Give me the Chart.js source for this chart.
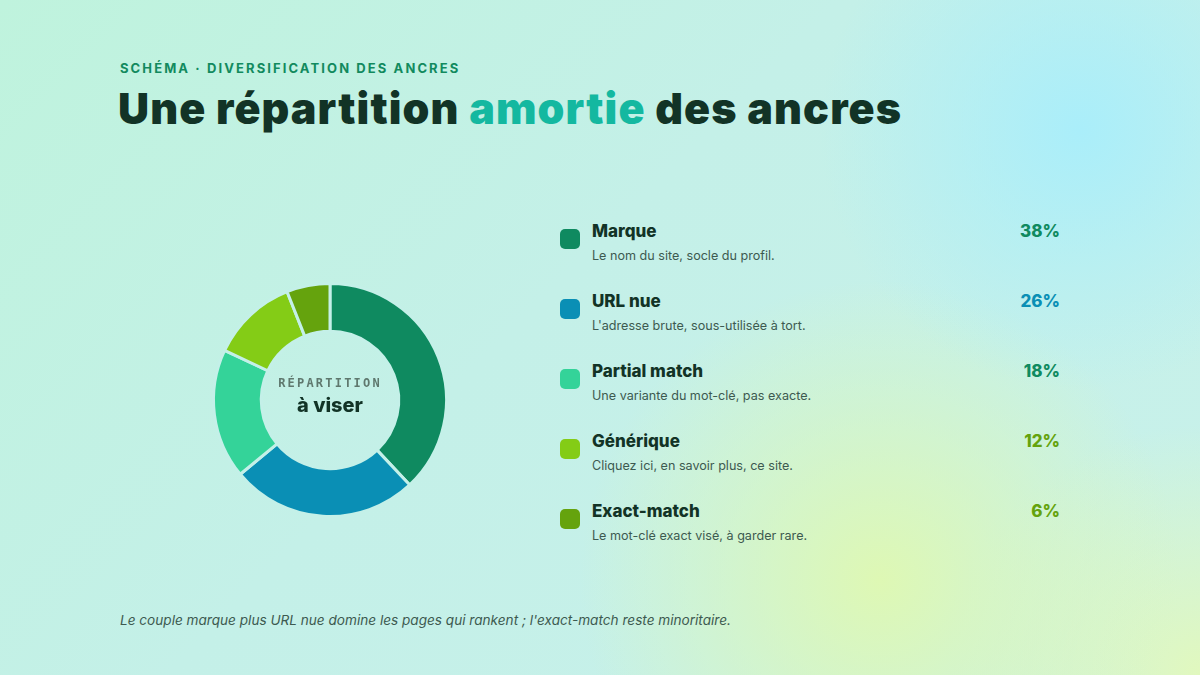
<!DOCTYPE html>
<html><head><meta charset="utf-8">
<script src="https://cdn.jsdelivr.net/npm/chart.js@4"></script>
<style>
html,body{margin:0;width:1200px;height:675px;overflow:hidden;font-family:Inter,"Noto Sans",sans-serif;}
body{background:
 radial-gradient(circle at 1080px 130px, rgba(170,238,250,1) 0, rgba(170,238,250,0) 260px),
 radial-gradient(circle at 880px 580px, rgba(222,248,180,1) 0, rgba(222,248,180,0) 300px),
 radial-gradient(circle at 1200px 675px, rgba(225,248,190,1) 0, rgba(225,248,190,0) 250px),
 linear-gradient(135deg,#bff3dd 0%,#c4f0e8 45%,#c8f1ea 100%);position:relative;}
.kick{position:absolute;left:120px;top:60px;font-size:13px;font-weight:700;letter-spacing:2.1px;color:#128a5e;}
h1{position:absolute;left:118px;top:82px;margin:0;font-size:43px;font-weight:900;letter-spacing:1.1px;color:#123326;}
h1 span{color:#14b8a0;}
#wrap{position:absolute;left:200px;top:270px;width:260px;height:260px;}
.center{position:absolute;left:200px;top:270px;width:260px;height:260px;display:flex;flex-direction:column;align-items:center;justify-content:center;pointer-events:none;}
.c1{font-family:"DejaVu Sans Mono",monospace;font-weight:bold;font-size:12px;letter-spacing:2.2px;color:#5f786e;margin-top:-8px;}
.c2{font-size:20px;font-weight:800;color:#123326;margin-top:3px;}
#legend{position:absolute;left:560px;top:221px;width:500px;}
.row{position:relative;height:70px;}
.sw{position:absolute;left:0;top:8px;width:20px;height:20px;border-radius:5px;}
.nm{position:absolute;left:32px;top:0;font-size:17px;font-weight:800;color:#123326;}
.ds{position:absolute;left:32px;top:27px;font-size:12.6px;color:#3d5a50;}
.pc{position:absolute;right:0;top:0;font-size:17px;font-weight:800;}
.foot{position:absolute;left:120px;top:612px;font-size:13.6px;font-style:italic;color:#3d5a50;}
</style></head><body>
<div class="kick">SCHÉMA · DIVERSIFICATION DES ANCRES</div>
<h1>Une répartition <span>amortie</span> des ancres</h1>
<div id="wrap"><canvas id="c" width="260" height="260"></canvas></div>
<div class="center"><div class="c1">RÉPARTITION</div><div class="c2">à viser</div></div>
<div id="legend"></div>
<div class="foot">Le couple marque plus URL nue domine les pages qui rankent ; l'exact-match reste minoritaire.</div>
<script>
const categories=["Marque","URL nue","Partial match","Générique","Exact-match"];
const values=[38,26,18,12,6];
const descriptions=["Le nom du site, socle du profil.","L'adresse brute, sous-utilisée à tort.","Une variante du mot-clé, pas exacte.","Cliquez ici, en savoir plus, ce site.","Le mot-clé exact visé, à garder rare."];
const colors=["#0f8a60","#0a8fb5","#34d399","#84cc16","#65a30d"];
const pctColors=["#0f8a60","#0a8fb5","#0f8a60","#65a30d","#65a30d"];
const lg=document.getElementById('legend');
categories.forEach((c,i)=>{const r=document.createElement('div');r.className='row';
r.innerHTML=`<div class="sw" style="background:${colors[i]}"></div><div class="nm">${c}</div><div class="ds">${descriptions[i]}</div><div class="pc" style="color:${pctColors[i]}">${values[i]}%</div>`;lg.appendChild(r);});
new Chart(document.getElementById('c'),{type:'doughnut',
data:{labels:categories,datasets:[{data:values,backgroundColor:colors,borderColor:'#c4f0e8',borderWidth:3}]},
options:{responsive:false,animation:false,cutout:'59%',layout:{padding:12},plugins:{legend:{display:false},tooltip:{enabled:false}}}});
</script>
</body></html>
